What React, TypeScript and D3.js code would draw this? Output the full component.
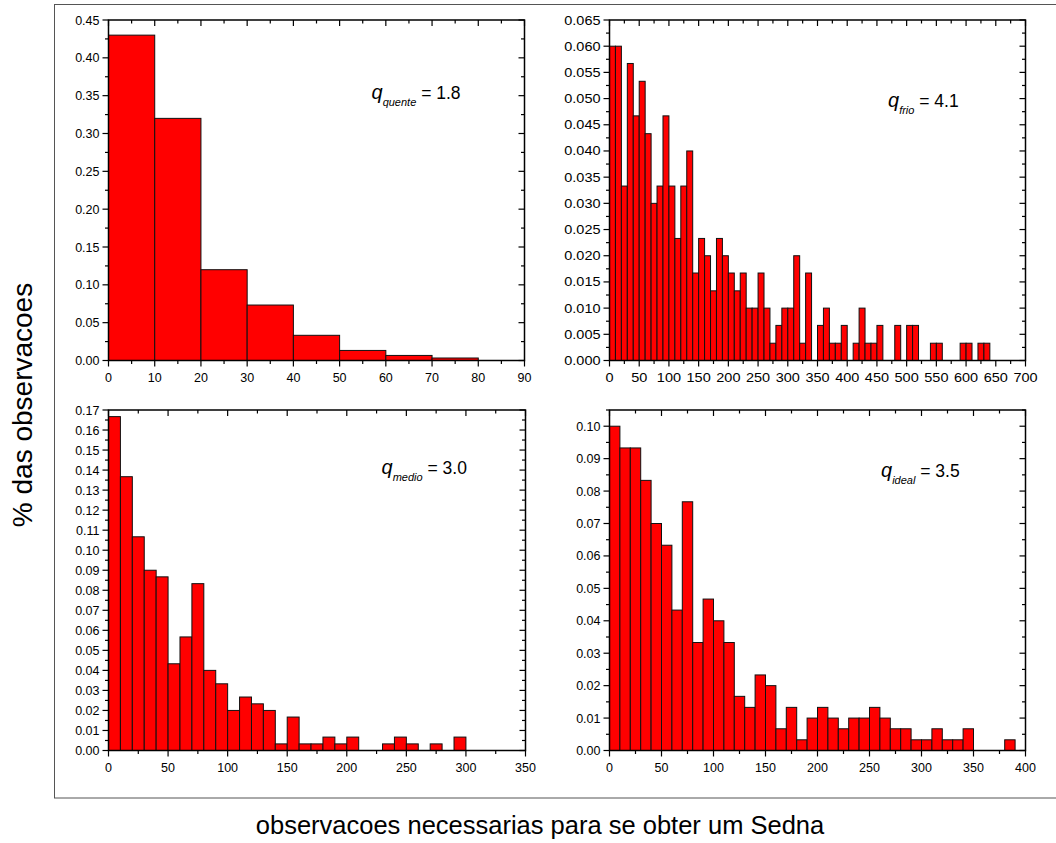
import React from "react";
import * as d3 from "d3";

// Relative frequency per 10-observation bin, first bin starting at 0.
const quenteFreq = [0.43, 0.32, 0.12, 0.0733, 0.0333, 0.0133, 0.0067, 0.0033];

const frioFreq = [
  0.06, 0.06, 0.0333, 0.0567, 0.0467, 0.0533, 0.0433, 0.03, 0.0333, 0.0467,
  0.0333, 0.0233, 0.0333, 0.04, 0.0167, 0.0233, 0.02, 0.0133, 0.0233, 0.02,
  0.0167, 0.0133, 0.0167, 0.01, 0.01, 0.0167, 0.01, 0.0033, 0.0067, 0.01,
  0.01, 0.02, 0.0033, 0.0167, 0, 0.0067, 0.01, 0.0033, 0.0033, 0.0067,
  0, 0.0033, 0.01, 0.0033, 0.0033, 0.0067, 0, 0, 0.0067, 0,
  0.0067, 0.0067, 0, 0, 0.0033, 0.0033, 0, 0, 0, 0.0033,
  0.0033, 0, 0.0033, 0.0033,
];

const medioFreq = [
  0.1667, 0.1367, 0.1067, 0.09, 0.0867, 0.0433, 0.0567, 0.0833, 0.04, 0.0333,
  0.02, 0.0267, 0.0233, 0.02, 0.0033, 0.0167, 0.0033, 0.0033, 0.0067, 0.0033,
  0.0067, 0, 0, 0.0033, 0.0067, 0.0033, 0, 0.0033, 0, 0.0067,
];

const idealFreq = [
  0.1, 0.0933, 0.0933, 0.0833, 0.07, 0.0633, 0.0433, 0.0767, 0.0333, 0.0467,
  0.04, 0.0333, 0.0167, 0.0133, 0.0233, 0.02, 0.0067, 0.0133, 0.0033, 0.01,
  0.0133, 0.01, 0.0067, 0.01, 0.01, 0.0133, 0.01, 0.0067, 0.0067, 0.0033,
  0.0033, 0.0067, 0.0033, 0.0033, 0.0067, 0, 0, 0, 0.0033,
];

const BIN_WIDTH = 10;

// Tick labels
const quenteXTicks = [0, 10, 20, 30, 40, 50, 60, 70, 80, 90];
const quenteYTicks = ["0.00", "0.05", "0.10", "0.15", "0.20", "0.25", "0.30", "0.35", "0.40", "0.45"];
const frioXTicks = [0, 50, 100, 150, 200, 250, 300, 350, 400, 450, 500, 550, 600, 650, 700];
const frioYTicks = [
  "0.000", "0.005", "0.010", "0.015", "0.020", "0.025", "0.030",
  "0.035", "0.040", "0.045", "0.050", "0.055", "0.060", "0.065",
];
const medioXTicks = [0, 50, 100, 150, 200, 250, 300, 350];
const medioYTicks = [
  "0.00", "0.01", "0.02", "0.03", "0.04", "0.05", "0.06", "0.07", "0.08",
  "0.09", "0.10", "0.11", "0.12", "0.13", "0.14", "0.15", "0.16", "0.17",
];
const idealXTicks = [0, 50, 100, 150, 200, 250, 300, 350, 400];
const idealYTicks = ["0.00", "0.01", "0.02", "0.03", "0.04", "0.05", "0.06", "0.07", "0.08", "0.09", "0.10"];

const FONT = "'Liberation Sans', Arial, Helvetica, sans-serif";

type PanelSpec = {
  freq: number[];
  xTicks: number[];
  yTicks: string[];
  xMax: number;
  yMax: number;
  xMinorStep: number;
  yMinorStep: number;
  box: { left: number; right: number; top: number; bottom: number };
  label: { sub: string; value: string; x: number; y: number };
  stretch: number;
};

const panels: PanelSpec[] = [
  {
    freq: quenteFreq,
    xTicks: quenteXTicks,
    yTicks: quenteYTicks,
    xMax: 90,
    yMax: 0.45,
    xMinorStep: 5,
    yMinorStep: 0.025,
    box: { left: 108.5, right: 524.5, top: 20, bottom: 360.5 },
    label: { sub: "quente", value: "1.8", x: 371.5, y: 98.5 },
    stretch: 1,
  },
  {
    freq: frioFreq,
    xTicks: frioXTicks,
    yTicks: frioYTicks,
    xMax: 700,
    yMax: 0.065,
    xMinorStep: 25,
    yMinorStep: 0.0025,
    box: { left: 609.5, right: 1025.5, top: 20, bottom: 360.5 },
    label: { sub: "frio", value: "4.1", x: 888, y: 106.5 },
    stretch: 1.16,
  },
  {
    freq: medioFreq,
    xTicks: medioXTicks,
    yTicks: medioYTicks,
    xMax: 350,
    yMax: 0.17,
    xMinorStep: 25,
    yMinorStep: 0.005,
    box: { left: 108.5, right: 525.5, top: 410, bottom: 750.5 },
    label: { sub: "medio", value: "3.0", x: 381.5, y: 473.5 },
    stretch: 1,
  },
  {
    freq: idealFreq,
    xTicks: idealXTicks,
    yTicks: idealYTicks,
    xMax: 400,
    yMax: 0.105,
    xMinorStep: 25,
    yMinorStep: 0.005,
    box: { left: 609.5, right: 1025.5, top: 410, bottom: 750.5 },
    label: { sub: "ideal", value: "3.5", x: 881, y: 477 },
    stretch: 1,
  },
];

const MAJOR = 6;
const MINOR = 3.5;

function Histogram({ p }: { p: PanelSpec }) {
  const { left, right, top, bottom } = p.box;
  const x = d3.scaleLinear().domain([0, p.xMax]).range([left, right]);
  const y = d3.scaleLinear().domain([0, p.yMax]).range([bottom, top]);

  const yMajor = p.yTicks.map((t) => +t);
  const xMinor = d3.range(0, p.xMax + 1e-9, p.xMinorStep).filter((v) => !p.xTicks.includes(v));
  const yMinor = d3
    .range(0, p.yMax + 1e-9, p.yMinorStep)
    .filter((v) => !yMajor.some((m) => Math.abs(m - v) < 1e-9));

  const bars = p.freq
    .map((v, i) => ({ v, x0: i * BIN_WIDTH, x1: (i + 1) * BIN_WIDTH }))
    .filter((d) => d.v > 0);

  const tickStroke = { stroke: "#000", strokeWidth: 1.2 };

  return (
    <g>
      {bars.map((d, i) => (
        <rect
          key={i}
          x={x(d.x0)}
          y={y(d.v)}
          width={x(d.x1) - x(d.x0)}
          height={y(0) - y(d.v)}
          fill="#ff0000"
          stroke="#111"
          strokeWidth={1}
        />
      ))}
      {/* ticks: outward on left/bottom, inward on top/right */}
      {p.xTicks.map((v) => (
        <g key={"xm" + v}>
          <line x1={x(v)} x2={x(v)} y1={bottom} y2={bottom + MAJOR} {...tickStroke} />
          <line x1={x(v)} x2={x(v)} y1={top} y2={top + MAJOR} {...tickStroke} />
        </g>
      ))}
      {xMinor.map((v) => (
        <g key={"xn" + v}>
          <line x1={x(v)} x2={x(v)} y1={bottom} y2={bottom + MINOR} {...tickStroke} />
          <line x1={x(v)} x2={x(v)} y1={top} y2={top + MINOR} {...tickStroke} />
        </g>
      ))}
      {yMajor.map((v) => (
        <g key={"ym" + v}>
          <line x1={left - MAJOR} x2={left} y1={y(v)} y2={y(v)} {...tickStroke} />
          <line x1={right - MAJOR} x2={right} y1={y(v)} y2={y(v)} {...tickStroke} />
        </g>
      ))}
      {yMinor.map((v) => (
        <g key={"yn" + v}>
          <line x1={left - MINOR} x2={left} y1={y(v)} y2={y(v)} {...tickStroke} />
          <line x1={right - MINOR} x2={right} y1={y(v)} y2={y(v)} {...tickStroke} />
        </g>
      ))}
      <rect
        x={left}
        y={top}
        width={right - left}
        height={bottom - top}
        fill="none"
        stroke="#000"
        strokeWidth={1.5}
      />
      {p.xTicks.map((v) => (
        <text
          key={"xl" + v}
          transform={`translate(${x(v)},${bottom + 21.5}) scale(${p.stretch},1)`}
          textAnchor="middle"
          fontSize={12.5}
          fontFamily={FONT}
          fill="#000"
        >
          {v}
        </text>
      ))}
      {p.yTicks.map((t) => (
        <text
          key={"yl" + t}
          transform={`translate(${left - 9},${y(+t) + 4.5}) scale(${p.stretch},1)`}
          textAnchor="end"
          fontSize={12.5}
          fontFamily={FONT}
          fill="#000"
        >
          {t}
        </text>
      ))}
      <text x={p.label.x} y={p.label.y} fontFamily={FONT} fontSize={17.5} fill="#000">
        <tspan fontStyle="italic" fontSize={20}>
          q
        </tspan>
        <tspan fontStyle="italic" fontSize={11} dy={7}>
          {p.label.sub}
        </tspan>
        <tspan dy={-7}> = {p.label.value}</tspan>
      </text>
    </g>
  );
}

export default function App() {
  return (
    <svg
      width={1056}
      height={843}
      viewBox="0 0 1056 843"
      style={{ position: "absolute", left: 0, top: 0, background: "#fff" }}
    >
      <rect x={0} y={0} width={1056} height={843} fill="#fff" />
      <rect x={54.5} y={4.5} width={1010} height={793.5} fill="none" stroke="#555" strokeWidth={1} />
      {panels.map((p, i) => (
        <Histogram key={i} p={p} />
      ))}
      <text
        transform="translate(32,405) rotate(-90)"
        textAnchor="middle"
        fontFamily={FONT}
        fontSize={28}
        fill="#000"
      >
        % das observacoes
      </text>
      <text x={540} y={834} textAnchor="middle" fontFamily={FONT} fontSize={25.5} fill="#000">
        observacoes necessarias para se obter um Sedna
      </text>
    </svg>
  );
}
